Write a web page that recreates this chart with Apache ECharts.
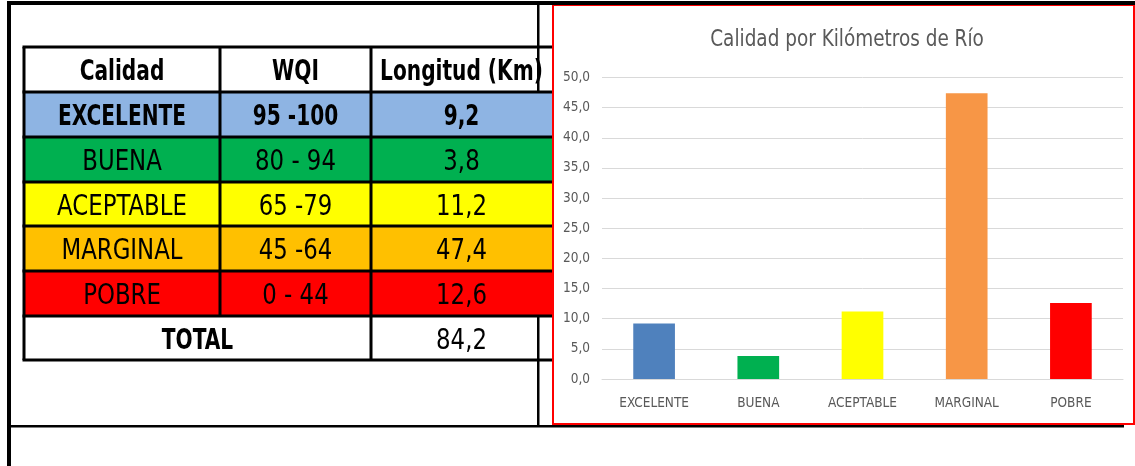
<!DOCTYPE html>
<html>
<head>
<meta charset="utf-8">
<script src="https://cdn.jsdelivr.net/npm/echarts@6/dist/echarts.min.js"></script>
<style>
html,body{margin:0;padding:0;background:#fff;}
#main{width:1135px;height:466px;}
</style>
</head>
<body>
<div id="main"></div>
<script>
// ---- data ----
const categories = ['EXCELENTE', 'BUENA', 'ACEPTABLE', 'MARGINAL', 'POBRE'];
const wqiRanges = ['95 -100', '80 - 94', '65 -79', '45 -64', '0 - 44'];
const lengthKm = [9.2, 3.8, 11.2, 47.4, 12.6];
const totalKm = 84.2;
const headers = ['Calidad', 'WQI', 'Longitud (Km)'];
const totalLabel = 'TOTAL';
const chartTitle = 'Calidad por Kilómetros de Río';
const yTicks = [0, 5, 10, 15, 20, 25, 30, 35, 40, 45, 50];

// ---- styles ----
const rowFill = ['#8EB4E3', '#00B050', '#FFFF00', '#FFC000', '#FF0000'];
const barFill = ['#4F81BD', '#00B050', '#FFFF00', '#F79646', '#FF0000'];
const rowBold = [true, false, false, false, false];
const FONT = '"Liberation Sans Narrow","DejaVu Sans Condensed",Arial,sans-serif';
const fmt = v => v.toFixed(1).replace('.', ',');

const colX = [24, 220, 371, 552];
const rowY = [47, 92, 137, 182, 226, 271, 316, 360];

const g = [];
// outer frame
g.push({type:'rect', shape:{x:7, y:1, width:1128, height:4}, style:{fill:'#000'}});
g.push({type:'rect', shape:{x:7, y:1, width:4, height:465}, style:{fill:'#000'}});
g.push({type:'rect', shape:{x:537, y:5, width:2.5, height:422}, style:{fill:'#000'}});
g.push({type:'rect', shape:{x:7, y:425, width:1117, height:2.5}, style:{fill:'#000'}});
// row fills
categories.forEach((c, i) => {
  g.push({type:'rect', shape:{x:colX[0], y:rowY[i+1], width:colX[3]-colX[0], height:rowY[i+2]-rowY[i+1]}, style:{fill:rowFill[i]}});
});
// total row white fill
g.push({type:'rect', shape:{x:colX[0], y:rowY[6], width:537-colX[0], height:rowY[7]-rowY[6]}, style:{fill:'#fff'}});
const LW = 3;
// horizontal lines
rowY.forEach((y, i) => {
  g.push({type:'line', shape:{x1:colX[0]-1.5, y1:y, x2:colX[3], y2:y}, style:{stroke:'#000', lineWidth:LW}});
});
// vertical lines
g.push({type:'line', shape:{x1:colX[0], y1:rowY[0], x2:colX[0], y2:rowY[7]}, style:{stroke:'#000', lineWidth:LW}});
g.push({type:'line', shape:{x1:colX[1], y1:rowY[0], x2:colX[1], y2:rowY[6]}, style:{stroke:'#000', lineWidth:LW}});
g.push({type:'line', shape:{x1:colX[2], y1:rowY[0], x2:colX[2], y2:rowY[7]}, style:{stroke:'#000', lineWidth:LW}});

function cellText(txt, x0, x1, y0, y1, bold) {
  g.push({type:'text', x:(x0+x1)/2, y:(y0+y1)/2 + 3.5,
    scaleY: bold ? 1.25 : 1.1,
    style:{text:txt, fill:'#000', font:(bold ? 'bold 22.4px ' : '25.4px ') + FONT, align:'center', verticalAlign:'middle'}});
}
headers.forEach((h, j) => cellText(h, colX[j], colX[j+1], rowY[0], rowY[1], true));
categories.forEach((c, i) => {
  const y0 = rowY[i+1], y1 = rowY[i+2];
  cellText(c, colX[0], colX[1], y0, y1, rowBold[i]);
  cellText(wqiRanges[i], colX[1], colX[2], y0, y1, rowBold[i]);
  cellText(fmt(lengthKm[i]), colX[2], colX[3], y0, y1, rowBold[i]);
});
cellText(totalLabel, colX[0], colX[2], rowY[6], rowY[7], true);
cellText(fmt(totalKm), colX[2], colX[3], rowY[6], rowY[7], false);

// chart box
g.push({type:'rect', shape:{x:553, y:5, width:581, height:419}, style:{fill:'#fff', stroke:'#FF0000', lineWidth:2}, z:-1});
// chart title (slightly tall, condensed look)
g.push({type:'text', x:847, y:40, scaleY:1.15,
  style:{text:chartTitle, fill:'#595959', font:'20.5px ' + FONT, align:'center', verticalAlign:'middle'}});

const chart = echarts.init(document.getElementById('main'), null, {renderer:'canvas'});
chart.setOption({
  backgroundColor:'#fff',
  animation:false,
  graphic:{elements:g},
  grid:{left:602, right:12, top:77.5, bottom:87, containLabel:false},
  xAxis:{type:'category', data:categories,
    axisLine:{lineStyle:{color:'#D9D9D9', width:1}}, axisTick:{show:false},
    axisLabel:{fontFamily:FONT, fontSize:13.5, color:'#595959', margin:17}},
  yAxis:{type:'value', min:yTicks[0], max:yTicks[yTicks.length-1], interval:yTicks[1]-yTicks[0],
    axisLine:{show:false}, axisTick:{show:false},
    splitLine:{lineStyle:{color:'#D9D9D9', width:1}},
    axisLabel:{fontFamily:FONT, fontSize:13.5, color:'#595959', margin:12, formatter:v => fmt(v)}},
  series:[{type:'bar', barWidth:'40%',
    data:lengthKm.map((v, i) => ({value:v, itemStyle:{color:barFill[i]}}))}]
});
</script>
</body>
</html>
